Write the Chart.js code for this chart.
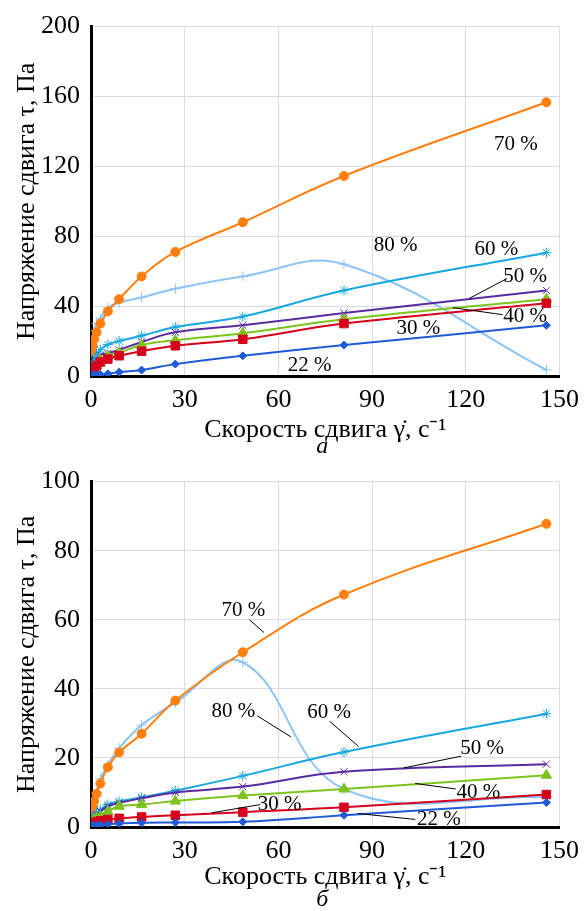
<!DOCTYPE html>
<html>
<head>
<meta charset="utf-8">
<script src="https://cdn.jsdelivr.net/npm/chart.js@4.4.1/dist/chart.umd.min.js"></script>
<style>
html, body { margin: 0; padding: 0; background: #fff; }
canvas { display: block; }
</style>
</head>
<body>
<canvas id="chartA" width="588" height="455"></canvas>
<canvas id="chartB" width="588" height="456"></canvas>
<script>
"use strict";

/********/
/* data */
/********/
// shear rates of the rheometer, 1/s
const shearRate = [0.333, 0.6, 1, 1.8, 3, 5.4, 9, 16.2, 27, 48.6, 81, 145.8];
const seriesNames = ["22 %", "30 %", "40 %", "50 %", "60 %", "70 %", "80 %"];
const xTicks = [0, 30, 60, 90, 120, 150];
const yTicksA = [0, 40, 80, 120, 160, 200];
const yTicksB = [0, 20, 40, 60, 80, 100];

// panel a, shear stress, Pa
const a22 = [0.3, 0.4, 0.5, 0.6, 0.8, 1.3, 2.2, 3.4, 6.8, 11.6, 17.7, 29];
const a30 = [2, 3, 4, 6, 8, 9.7, 11.6, 14.2, 17.3, 21, 30, 41.6];
const a40 = [2.5, 3.5, 4.5, 6, 9, 11.5, 13.3, 17.7, 20.5, 24.5, 32.5, 44];
const a50 = [3, 5, 7, 9, 12, 13, 15, 19.5, 25, 29, 36, 49];
const a60 = [5, 7, 9, 12, 15, 18, 20, 23, 28, 34, 49, 70.6];
const a70 = [14, 17, 21, 25, 30, 37, 44, 57, 71, 88, 114.5, 156.7];
const a80 = [17, 22, 26, 30, 33, 39, 42, 45, 50, 57, 64, 3.5];

// panel b, shear stress, Pa
const b22 = [0.2, 0.3, 0.4, 0.5, 0.6, 0.8, 1.0, 1.2, 1.3, 1.5, 3.4, 7.1];
const b30 = [0.8, 1, 1.2, 1.5, 1.8, 2.2, 2.5, 2.9, 3.4, 4.3, 5.7, 9.4];
const b40 = [1, 1.5, 2, 2.5, 3, 4.5, 6, 6.5, 7.5, 9.1, 11, 15];
const b50 = [1.5, 2, 2.5, 3.5, 4.5, 6, 7, 8.3, 10, 11.7, 16, 18.2];
const b60 = [2, 2.5, 3, 4, 5, 6.5, 7.4, 8.6, 10.5, 14.8, 21.7, 32.8];
const b70 = [4, 6, 7.5, 9.6, 12.6, 17.3, 21.6, 27, 36.6, 50.6, 67.3, 87.8];
const b80 = [4, 6, 8, 10, 14, 18, 22.8, 29.5, 36, 47.7, 11, 8.6];

/**********/
/* styles */
/**********/
const FONT = "'Liberation Serif', 'Times New Roman', serif";
const seriesLook = [
	{ color: "#1f5bd6", point: "rectRot", radius: 4 },
	{ color: "#d6001c", point: "rect", radius: 6 },
	{ color: "#7cc41c", point: "triangle", radius: 6 },
	{ color: "#5a2aa0", point: "crossRot", radius: 5 },
	{ color: "#16a8e0", point: "star", radius: 5 },
	{ color: "#ff7f0e", point: "circle", radius: 4.5 },
	{ color: "#8cc4f8", point: "cross", radius: 5 }
];

/***********/
/* plugins */
/***********/
// curve labels with leader lines and the panel letter
const notesPlugin = {
	id: "notes",
	afterDatasetsDraw(chart, args, opts) {
		const ctx = chart.ctx;
		const xs = chart.scales.x;
		const ys = chart.scales.y;
		ctx.save();
		ctx.strokeStyle = "#000";
		ctx.lineWidth = 1;
		ctx.fillStyle = "#000";
		ctx.textAlign = "center";
		ctx.textBaseline = "middle";
		ctx.font = "21px " + FONT;
		opts.items.forEach(n => {
			if (n.line) {
				ctx.beginPath();
				ctx.moveTo(xs.getPixelForValue(n.line[0]), ys.getPixelForValue(n.line[1]));
				ctx.lineTo(xs.getPixelForValue(n.line[2]), ys.getPixelForValue(n.line[3]));
				ctx.stroke();
			}
			ctx.fillText(n.text, xs.getPixelForValue(n.x), ys.getPixelForValue(n.y));
		});
		// panel letter
		ctx.font = "italic 24px " + FONT;
		const area = chart.chartArea;
		ctx.fillText(opts.panel, (area.left + area.right) / 2 - 3, chart.height - opts.panelBottom);
		ctx.restore();
	}
};

/***********/
/* methods */
/***********/
function makeDatasets(values) {
	return values.map((v, i) => {
		const look = seriesLook[i];
		return {
			label: seriesNames[i],
			data: shearRate.map((x, k) => ({ x: x, y: v[k] })),
			borderColor: look.color,
			backgroundColor: look.color,
			borderWidth: 2,
			pointStyle: look.point,
			pointRadius: look.radius,
			pointBorderWidth: 1,
			tension: 0.4
		};
	});
}

function buildChart(id, values, yTicks, pad, xHeight, titleBottom, notes) {
	const ctx = document.getElementById(id).getContext("2d");
	const yMax = yTicks[yTicks.length - 1];
	return new Chart(ctx, {
		type: "line",
		data: { datasets: makeDatasets(values) },
		plugins: [notesPlugin],
		options: {
			responsive: false,
			animation: false,
			layout: { padding: pad },
			plugins: {
				legend: { display: false },
				tooltip: { enabled: false },
				notes: notes
			},
			scales: {
				x: {
					type: "linear",
					min: xTicks[0],
					max: xTicks[xTicks.length - 1],
					afterBuildTicks: s => { s.ticks = xTicks.map(v => ({ value: v })); },
					afterFit: s => { s.height = xHeight; },
					grid: { color: "#d7dce6", drawTicks: false },
					border: { color: "#000", width: 3 },
					ticks: { color: "#000", padding: 9, font: { family: FONT, size: 26 } },
					title: {
						display: true,
						text: "Скорость сдвига γ̇, с⁻¹",
						color: "#000",
						font: { family: FONT, size: 26 },
						padding: { top: 0, bottom: titleBottom }
					}
				},
				y: {
					min: 0,
					max: yMax,
					afterBuildTicks: s => { s.ticks = yTicks.map(v => ({ value: v })); },
					afterFit: s => { s.width = 91; },
					grid: { color: "#d7dce6", drawTicks: false },
					border: { color: "#000", width: 3 },
					ticks: { color: "#000", padding: 11, font: { family: FONT, size: 26 } },
					title: {
						display: true,
						text: "Напряжение сдвига τ, Па",
						color: "#000",
						font: { family: FONT, size: 26 },
						padding: { top: 12, bottom: 0 }
					}
				}
			}
		}
	});
}

/********/
/* MAIN */
/********/
(function main() {
	buildChart("chartA", [a22, a30, a40, a50, a60, a70, a80], yTicksA,
		{ top: 25, right: 22, left: 0, bottom: 0 }, 79, 9, {
			panel: "а",
			panelBottom: 8,
			items: [
				{ text: "70 %", x: 136, y: 132.8 },
				{ text: "80 %", x: 97.5, y: 74.6 },
				{ text: "60 %", x: 129.8, y: 72.4 },
				{ text: "50 %", x: 139, y: 57, line: [133.2, 55.8, 121.1, 44.4] },
				{ text: "40 %", x: 139, y: 33.8, line: [131.8, 35.1, 115.9, 39.1] },
				{ text: "30 %", x: 104.8, y: 27.4 },
				{ text: "22 %", x: 70, y: 5.9 }
			]
		});
	buildChart("chartB", [b22, b30, b40, b50, b60, b70, b80], yTicksB,
		{ top: 20, right: 25, left: 0, bottom: 0 }, 84, 18, {
			panel: "б",
			panelBottom: 11,
			items: [
				{ text: "70 %", x: 48.8, y: 62.6, line: [50.7, 60.0, 55.4, 56.3] },
				{ text: "80 %", x: 45.6, y: 33.4, line: [53.2, 32.2, 64.0, 26.1] },
				{ text: "60 %", x: 76.2, y: 33.2, line: [76.4, 30.6, 85.7, 23.3] },
				{ text: "50 %", x: 125.2, y: 22.6, line: [118.5, 20.5, 100.1, 17.1] },
				{ text: "40 %", x: 124, y: 10.0, line: [116.8, 11, 103.8, 12.6] },
				{ text: "30 %", x: 60.4, y: 6.5, line: [54.2, 6.5, 38.6, 4.1] },
				{ text: "22 %", x: 111.4, y: 2.2, line: [103.8, 2.2, 85.4, 3.9] }
			]
		});
})();
</script>
</body>
</html>
